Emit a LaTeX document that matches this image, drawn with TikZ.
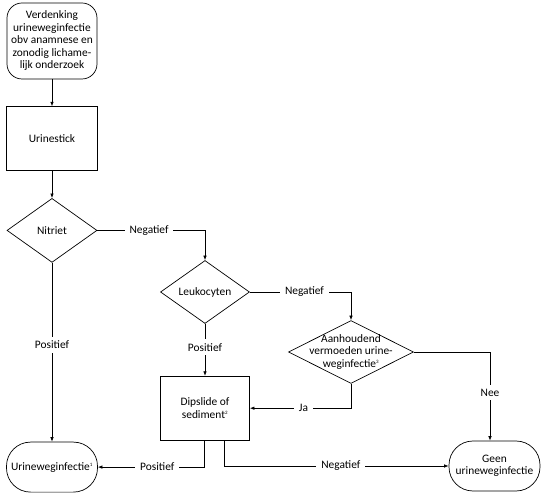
\documentclass[tikz,border=0pt]{standalone}
\usepackage{fontspec}
\setmainfont{Carlito}
\usetikzlibrary{arrows.meta, positioning, shapes.geometric}

\begin{document}
\begin{tikzpicture}[
    x=1pt, y=1pt,
    font=\fontsize{11.4}{12.5}\selectfont,
    >={Latex[length=4.5pt,width=3.5pt]},
    line width=0.7pt,
    every node/.style={align=center},
    box/.style={rectangle, draw, minimum width=91pt, minimum height=64pt, inner sep=2pt},
    start/.style={rectangle, draw, rounded corners=15pt, minimum width=90pt, minimum height=76pt, inner sep=1pt},
    eind/.style={rectangle, draw, rounded corners=24pt, minimum width=91pt, minimum height=50pt, inner sep=1pt},
    keuze/.style={diamond, draw, inner sep=0pt, minimum width=90pt, minimum height=64pt},
    lbl/.style={fill=white, inner xsep=5pt, inner ysep=4pt}
]
\useasboundingbox (0,0) rectangle (544,-494);

% ----------------------
% Nodes
% ----------------------

% Start
\node[start] (verd) at (52,-41) {Verdenking\\urineweginfectie\\obv anamnese en\\zonodig lichame-\\lijk onderzoek};

% Urinestick
\node[box, below=27pt of verd] (stick) {Urinestick};

% Nitriet
\node[keuze, below=27pt of stick] (nitriet) {Nitriet};

% Leukocyten
\node[keuze, minimum width=89pt, minimum height=63pt] (leuko) at (205,-292) {Leukocyten};

% Dipslide of sediment
\node[box, minimum width=89pt, below=52pt of leuko] (dip) {Dipslide of\\sediment\textsuperscript{\tiny 2}};

% Aanhoudend vermoeden
\node[keuze, minimum width=125pt, minimum height=63pt,
    label={[align=center]center:Aanhoudend\\vermoeden urine-\\weginfectie\textsuperscript{\tiny 3}}] (aanh) at (351,-352) {};

% Eindpunten
\node[eind, below=179pt of nitriet] (uwi) {Urineweginfectie\textsuperscript{\tiny 1}};
\node[eind] (geen) at (494.5,-466) {Geen\\urineweginfectie};

% ----------------------
% Arrows
% ----------------------

\draw[->] (verd) -- (stick);
\draw[->] (stick) -- (nitriet);

% Nitriet
\draw[->] (nitriet.east) -| node[lbl, pos=0.24] {Negatief} (leuko.north);
\draw[->] (nitriet) -- node[lbl, pos=0.46] {Positief} (uwi);

% Leukocyten
\draw[->] (leuko.east) -| node[lbl, pos=0.27] {Negatief} (aanh.north);
\draw[->] (leuko) -- node[lbl, pos=0.45] {Positief} (dip);

% Aanhoudend vermoeden
\draw[->] (aanh.east) -| node[lbl, pos=0.73] {Nee} ([xshift=-4.5pt]geen.north);
\draw[->] (aanh.south) |- node[lbl, pos=0.735] {Ja} (dip.east);

% Dipslide of sediment
\draw[->] ([xshift=-1pt]dip.south) |- node[lbl, pos=0.72] {Positief} (uwi.east);
\draw[->] ([xshift=19pt]dip.south) |- node[lbl, pos=0.76] {Negatief} (geen.west);

\end{tikzpicture}
\end{document}
